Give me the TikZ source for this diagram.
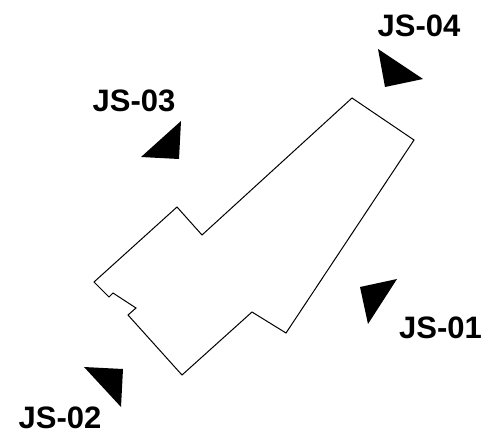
\documentclass[tikz,border=0pt]{standalone}
\usepackage{fontspec}
\setmainfont{Liberation Sans}
\tikzset{
	viewlabel/.style={font=\fontsize{31}{31}\selectfont\bfseries, inner sep=0pt, text=black},
	viewmark/.style={fill=black},
	outline/.style={draw=black, line width=1pt, line join=miter}
}
\begin{document}
\begin{tikzpicture}[x=1pt,y=-1pt]
	\useasboundingbox (0,0) rectangle (484,434);

	% Site outline
	\draw[outline] (352,98) -- (414,140) -- (286,333) -- (252,312) -- (182,375)
		-- (128,315) -- (136,308) -- (113,293) -- (109,297) -- (94,282)
		-- (177,207) -- (202,235) -- cycle;

	% JS-01
	\fill[viewmark] (360,287) -- (397,279) -- (368,324) -- cycle;
	\node[viewlabel] (js01) at (440.5,328) {JS-01};

	% JS-02
	\fill[viewmark] (84,367) -- (123,369) -- (121,407) -- cycle;
	\node[viewlabel] (js02) at (60,418) {JS-02};

	% JS-03
	\fill[viewmark] (181,121) -- (179,159) -- (141,157) -- cycle;
	\node[viewlabel] (js03) at (134,101) {JS-03};

	% JS-04
	\fill[viewmark] (378,49) -- (423,79) -- (385,87) -- cycle;
	\node[viewlabel] (js04) at (419,26) {JS-04};

\end{tikzpicture}
\end{document}
